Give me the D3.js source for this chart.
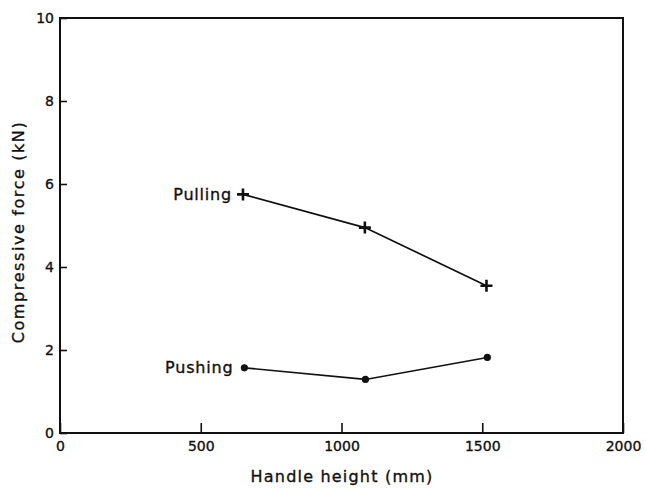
<!DOCTYPE html>
<html><head><meta charset="utf-8">
<script src="https://cdn.jsdelivr.net/npm/d3@7"></script>
<style>body{margin:0;background:#fff;} text{font-family:"DejaVu Sans",sans-serif;fill:#111;stroke:#111;stroke-width:0.35;}</style>
</head><body>
<svg id="c" width="646" height="489"></svg>
<script>
const xTicks = [0, 500, 1000, 1500, 2000];
const yTicks = [0, 2, 4, 6, 8, 10];
const pullX = [650, 1083, 1515];
const pullY = [5.75, 4.95, 3.55];
const pushX = [655, 1085, 1518];
const pushY = [1.57, 1.29, 1.82];
const seriesLabels = ["Pulling", "Pushing"];

const svg = d3.select("#c");
const L = 60, R = 623, T = 18, B = 433;
const x = d3.scaleLinear().domain([0, 2000]).range([L, R]);
const y = d3.scaleLinear().domain([0, 10]).range([B, T]);

// frame
svg.append("rect").attr("x", L).attr("y", T).attr("width", R - L).attr("height", B - T)
  .attr("fill", "none").attr("stroke", "#111").attr("stroke-width", 2);

// x axis
const xa = svg.append("g").attr("transform", `translate(0,${B})`)
  .call(d3.axisBottom(x).tickValues(xTicks).tickFormat(d3.format("d")).tickSizeInner(-10).tickSizeOuter(0).tickPadding(8));
xa.select(".domain").remove();
xa.selectAll("line").attr("stroke", "#111").attr("stroke-width", 1.6);
xa.selectAll("text").attr("font-size", 14).attr("font-family", "DejaVu Sans").attr("fill", "#111");

// y axis
const ya = svg.append("g").attr("transform", `translate(${L},0)`)
  .call(d3.axisLeft(y).tickValues(yTicks).tickFormat(d3.format("d")).tickSizeInner(-7).tickSizeOuter(0).tickPadding(6));
ya.select(".domain").remove();
ya.selectAll("line").attr("stroke", "#111").attr("stroke-width", 1.6);
ya.selectAll("text").attr("font-size", 14).attr("font-family", "DejaVu Sans").attr("fill", "#111");

// titles
svg.append("text").attr("x", 342).attr("y", 482).attr("text-anchor", "middle")
  .attr("font-size", 16).attr("letter-spacing", 1.2).text("Handle height (mm)");
svg.append("text").attr("transform", `translate(24,232) rotate(-90)`).attr("text-anchor", "middle")
  .attr("font-size", 16).attr("letter-spacing", 1.6).text("Compressive force (kN)");

const line = d3.line().x(d => x(d[0])).y(d => y(d[1]));
const pull = pullX.map((v, i) => [v, pullY[i]]);
const push = pushX.map((v, i) => [v, pushY[i]]);

svg.append("path").datum(pull).attr("d", line).attr("fill", "none").attr("stroke", "#111").attr("stroke-width", 1.7);
svg.append("path").datum(push).attr("d", line).attr("fill", "none").attr("stroke", "#111").attr("stroke-width", 1.7);

// plus markers
const s = 6;
svg.selectAll(".plus").data(pull).enter().append("path")
  .attr("d", d => `M${x(d[0]) - s},${y(d[1])}H${x(d[0]) + s}M${x(d[0])},${y(d[1]) - s}V${y(d[1]) + s}`)
  .attr("stroke", "#111").attr("stroke-width", 2.6);
svg.selectAll(".dot").data(push).enter().append("circle")
  .attr("cx", d => x(d[0])).attr("cy", d => y(d[1])).attr("r", 3.6).attr("fill", "#111");

// series labels
svg.append("text").attr("x", x(pull[0][0]) - 11).attr("y", y(pull[0][1]) + 6).attr("text-anchor", "end")
  .attr("font-size", 16).attr("letter-spacing", 0.8).text(seriesLabels[0]);
svg.append("text").attr("x", x(push[0][0]) - 11).attr("y", y(push[0][1]) + 5.5).attr("text-anchor", "end")
  .attr("font-size", 16).attr("letter-spacing", 0.8).text(seriesLabels[1]);
</script>
</body></html>
